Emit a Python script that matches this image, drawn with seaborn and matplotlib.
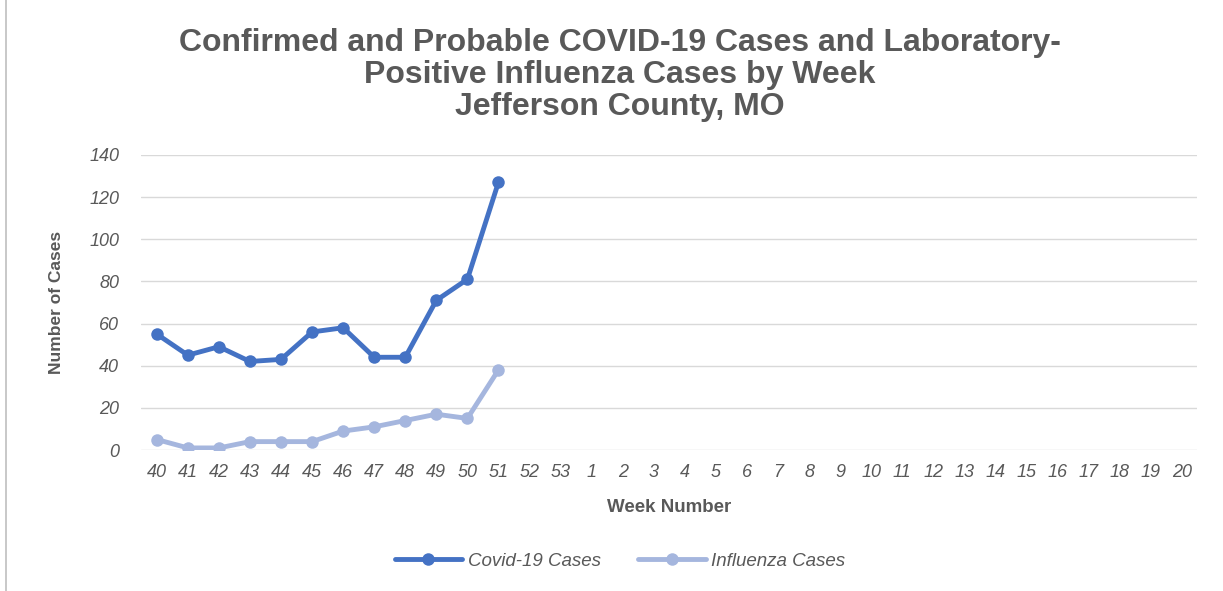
import matplotlib
matplotlib.use("Agg")
import matplotlib.pyplot as plt
from matplotlib.lines import Line2D
import seaborn as sns
import pandas as pd

# --- Data ---
week_labels = [str(w) for w in range(40, 54)] + [str(w) for w in range(1, 21)]
data_weeks = ["40", "41", "42", "43", "44", "45", "46", "47", "48", "49", "50", "51"]
covid_cases = [55, 45, 49, 42, 43, 56, 58, 44, 44, 71, 81, 127]
flu_cases = [5, 1, 1, 4, 4, 4, 9, 11, 14, 17, 15, 38]

covid_color = "#4472C4"
flu_color = "#A5B6DE"
text_gray = "#595959"

df = pd.DataFrame({
    "week": data_weeks * 2,
    "cases": covid_cases + flu_cases,
    "series": ["Covid-19 Cases"] * len(data_weeks) + ["Influenza Cases"] * len(data_weeks),
})
df["pos"] = df["week"].map(lambda w: week_labels.index(w))

# --- Plot ---
sns.set_style("white")
plt.rcParams["font.family"] = ["Liberation Sans", "DejaVu Sans"]

fig = plt.figure(figsize=(12.23, 5.91), dpi=100)
ax = fig.add_axes([0.1155, 0.2385, 0.8635, 0.4995])

sns.lineplot(data=df, x="pos", y="cases", hue="series",
             palette={"Covid-19 Cases": covid_color, "Influenza Cases": flu_color},
             marker="o", markersize=9, markeredgewidth=0, linewidth=3.5, ax=ax)

ax.set_xlim(-0.5, len(week_labels) - 0.5)
ax.set_ylim(0, 140)
ax.set_xticks(range(len(week_labels)))
ax.set_xticklabels(week_labels)
ax.set_yticks(range(0, 141, 20))
ax.tick_params(axis="both", length=0, labelsize=13, labelcolor=text_gray)
ax.tick_params(axis="x", pad=10)
ax.tick_params(axis="y", pad=16)
for lbl in ax.get_xticklabels() + ax.get_yticklabels():
    lbl.set_fontstyle("italic")

ax.grid(axis="y", color="#D9D9D9", linewidth=1)
ax.grid(axis="x", visible=False)
for s in ax.spines.values():
    s.set_visible(False)

ax.set_xlabel("Week Number", fontsize=13.5, fontweight="bold", color=text_gray, labelpad=13)
ax.set_ylabel("Number of Cases", fontsize=12.5, fontweight="bold", color=text_gray, labelpad=18)

fig.text(0.507, 0.873, "Confirmed and Probable COVID-19 Cases and Laboratory-\n"
         "Positive Influenza Cases by Week\nJefferson County, MO",
         ha="center", va="center", fontsize=23, fontweight="bold",
         color=text_gray, linespacing=1.07)

handles, labels = ax.get_legend_handles_labels()
ax.get_legend().remove()
leg = fig.legend(handles, labels, loc="center", bbox_to_anchor=(0.507, 0.05), ncol=2,
                 frameon=False, handlelength=3.6, handletextpad=0.3, columnspacing=2.0,
                 prop={"size": 13.5, "style": "italic"})
for t in leg.get_texts():
    t.set_color(text_gray)

# chart border on the left edge
fig.add_artist(Line2D([0.005, 0.005], [0, 1], color="#BFBFBF", linewidth=1.2))

fig.savefig("out.png", dpi=100)
